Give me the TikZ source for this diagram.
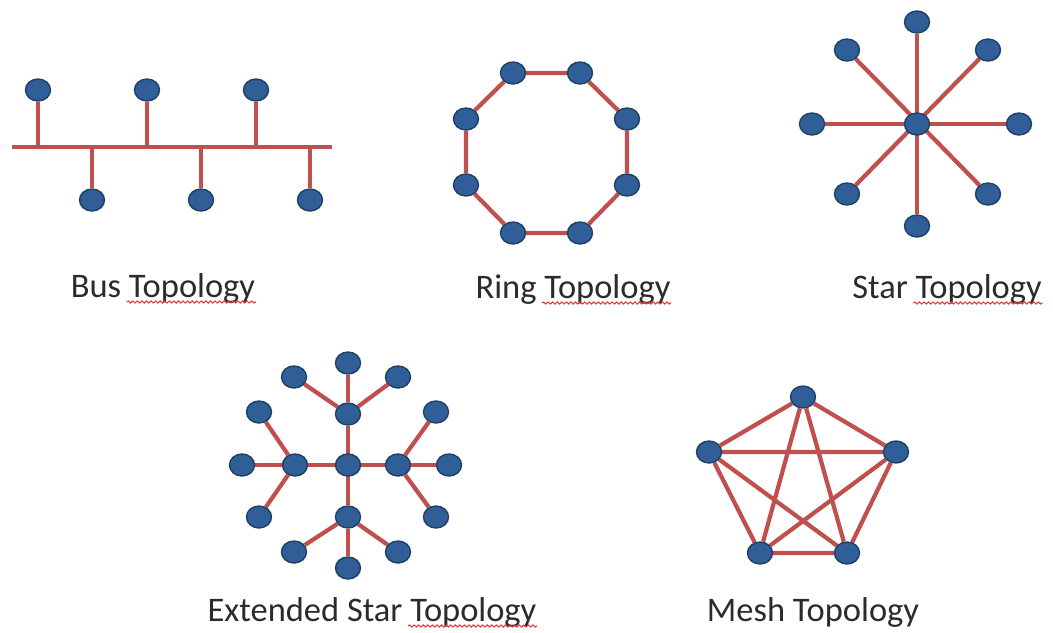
\documentclass[tikz,border=0pt]{standalone}
\usepackage{fontspec}
\setmainfont{Carlito}
\usetikzlibrary{positioning, shapes.geometric, calc, backgrounds, decorations.pathmorphing}
\definecolor{hostblue}{HTML}{2F5F96}
\definecolor{hostrim}{HTML}{1F3F66}
\definecolor{cable}{HTML}{C0504D}
\definecolor{ink}{HTML}{2B2B2B}
\definecolor{typo}{HTML}{E23B3B}

\begin{document}
\begin{tikzpicture}[x=0.01cm, y=-0.01cm, font=\fontsize{9.8}{11}\selectfont,
  host/.style={ellipse, draw=hostrim, line width=0.4pt, fill=hostblue, minimum width=0.25cm, minimum height=0.22cm, inner sep=0pt},
  link/.style={draw=cable, line width=1.2pt},
  caption/.style={text=ink, inner sep=0pt, anchor=base},
  spell/.style={draw=typo, line width=0.3pt, decorate, decoration={snake, amplitude=0.3pt, segment length=1.3pt}}
]
  \useasboundingbox (0,0) rectangle (1053,633);

  % bus
  \node[host] (b1) at (38,90) {};
  \node[host] (b2) at (147,90) {};
  \node[host] (b3) at (256,90) {};
  \node[host] (b4) at (92,200) {};
  \node[host] (b5) at (201,200) {};
  \node[host] (b6) at (310,200) {};
  \coordinate (busL) at (12,147);
  \coordinate (busR) at (332,147);
  \begin{scope}[on background layer]
    \draw[link] (busL) -- (busR);
    \draw[link] (b1) -- (b1 |- busL);
    \draw[link] (b2) -- (b2 |- busL);
    \draw[link] (b3) -- (b3 |- busL);
    \draw[link] (b4) -- (b4 |- busL);
    \draw[link] (b5) -- (b5 |- busL);
    \draw[link] (b6) -- (b6 |- busL);
  \end{scope}
  \node[caption] (bus-cap) at (163,297) {Bus Topology};

  % ring
  \node[host] (r1) at (513,73) {};
  \node[host] (r2) at (580,73) {};
  \node[host] (r3) at (627,119) {};
  \node[host] (r4) at (627,185) {};
  \node[host] (r5) at (580,233) {};
  \node[host] (r6) at (513,233) {};
  \node[host] (r7) at (466,185) {};
  \node[host] (r8) at (466,119) {};
  \begin{scope}[on background layer]
    \draw[link] (r1) -- (r2) -- (r3) -- (r4) -- (r5) -- (r6) -- (r7) -- (r8) -- (r1);
  \end{scope}
  \node[caption] (ring-cap) at (573,298) {Ring Topology};

  % star
  \node[host] (s0) at (917,124) {};
  \node[host] (s1) at (917,22) {};
  \node[host] (s2) at (988,50) {};
  \node[host] (s3) at (1019,124) {};
  \node[host] (s4) at (988,194) {};
  \node[host] (s5) at (917,226) {};
  \node[host] (s6) at (847,194) {};
  \node[host] (s7) at (812,124) {};
  \node[host] (s8) at (847,50) {};
  \begin{scope}[on background layer]
    \draw[link] (s1) -- (s5);
    \draw[link] (s3) -- (s7);
    \draw[link] (s2) -- (s6);
    \draw[link] (s4) -- (s8);
  \end{scope}
  \node[caption] (star-cap) at (947,298) {Star Topology};

  % extended star
  \node[host] (x0) at (348,465) {};
  \node[host] (xt) at (348,414) {};
  \node[host] (xb) at (348,517) {};
  \node[host] (xl) at (295,465) {};
  \node[host] (xr) at (398,465) {};
  \node[host] (xt1) at (294,377) {};
  \node[host] (xt2) at (348,363) {};
  \node[host] (xt3) at (398,377) {};
  \node[host] (xl1) at (259,412) {};
  \node[host] (xl2) at (242,465) {};
  \node[host] (xl3) at (259,517) {};
  \node[host] (xr1) at (436,412) {};
  \node[host] (xr2) at (449,465) {};
  \node[host] (xr3) at (436,517) {};
  \node[host] (xb1) at (294,552) {};
  \node[host] (xb2) at (348,568) {};
  \node[host] (xb3) at (398,552) {};
  \begin{scope}[on background layer]
    \draw[link] (xt) -- (xb);
    \draw[link] (xl) -- (xr);
    \draw[link] (xt) -- (xt1);
    \draw[link] (xt) -- (xt2);
    \draw[link] (xt) -- (xt3);
    \draw[link] (xl) -- (xl1);
    \draw[link] (xl) -- (xl2);
    \draw[link] (xl) -- (xl3);
    \draw[link] (xr) -- (xr1);
    \draw[link] (xr) -- (xr2);
    \draw[link] (xr) -- (xr3);
    \draw[link] (xb) -- (xb1);
    \draw[link] (xb) -- (xb2);
    \draw[link] (xb) -- (xb3);
  \end{scope}
  \node[caption] (ext-cap) at (372,621) {Extended Star Topology};

  % mesh
  \node[host] (m1) at (803,397) {};
  \node[host] (m2) at (896,452) {};
  \node[host] (m3) at (847,553) {};
  \node[host] (m4) at (760,553) {};
  \node[host] (m5) at (709,452) {};
  \begin{scope}[on background layer]
    \draw[link] (m1) -- (m2) -- (m3) -- (m4) -- (m5) -- (m1);
    \draw[link] (m1) -- (m3) -- (m5) -- (m2) -- (m4) -- (m1);
  \end{scope}
  \node[caption] (mesh-cap) at (813,621) {Mesh Topology};

  % spell-check marks under "Topology"
  \draw[spell] ($(bus-cap.base east)+(-129,5)$) -- ($(bus-cap.base east)+(0,5)$);
  \draw[spell] ($(ring-cap.base east)+(-129,5)$) -- ($(ring-cap.base east)+(0,5)$);
  \draw[spell] ($(star-cap.base east)+(-129,5)$) -- ($(star-cap.base east)+(0,5)$);
  \draw[spell] ($(ext-cap.base east)+(-129,5)$) -- ($(ext-cap.base east)+(0,5)$);
\end{tikzpicture}
\end{document}
